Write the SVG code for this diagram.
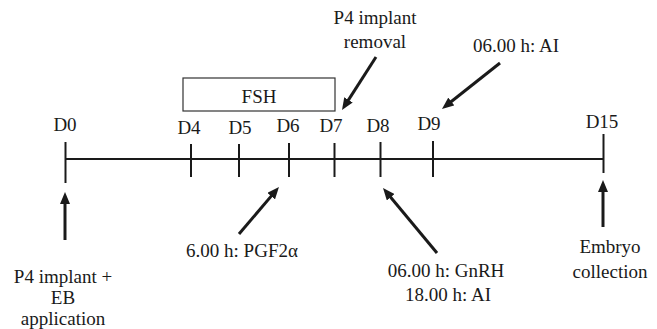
<svg xmlns="http://www.w3.org/2000/svg" width="657" height="329" viewBox="0 0 657 329">
<style>
text{font-family:"Liberation Serif","Times New Roman",serif;font-size:19px;fill:#1a1a1a;text-anchor:middle}
.ax{stroke:#1a1a1a;stroke-width:2;fill:none}
.tk{stroke:#1a1a1a;stroke-width:2}
.ar{stroke:#1a1a1a;stroke-width:3;fill:none;marker-end:url(#ah)}
.box{fill:#fff;stroke:#333;stroke-width:1.2}
</style>
<defs>
<marker id="ah" markerUnits="userSpaceOnUse" markerWidth="12" markerHeight="10" refX="2" refY="5" orient="auto">
<path d="M0,0 L12,5 L0,10 z" fill="#1a1a1a"/>
</marker>
</defs>
<rect width="657" height="329" fill="#fff"/>
<g id="timeline">
<line class="ax" x1="65" y1="159" x2="603.5" y2="159"/>
<line class="tk" x1="65.5" y1="142" x2="65.5" y2="183"/>
<line class="tk" x1="191" y1="144" x2="191" y2="177"/>
<line class="tk" x1="239" y1="144" x2="239" y2="177"/>
<line class="tk" x1="289" y1="143" x2="289" y2="177"/>
<line class="tk" x1="334.5" y1="143" x2="334.5" y2="177"/>
<line class="tk" x1="380.5" y1="142" x2="380.5" y2="177"/>
<line class="tk" x1="433" y1="141" x2="433" y2="177"/>
<line class="tk" x1="603.5" y1="134" x2="603.5" y2="173"/>
<text x="65" y="131">D0</text>
<text x="189" y="134">D4</text>
<text x="240" y="134">D5</text>
<text x="288" y="132">D6</text>
<text x="331" y="132">D7</text>
<text x="378" y="132">D8</text>
<text x="429" y="130">D9</text>
<text x="602" y="128">D15</text>
</g>
<g id="fsh">
<rect class="box" x="183" y="78" width="152" height="33"/>
<text x="259" y="103">FSH</text>
</g>
<g id="p4removal">
<text x="375" y="24">P4 implant</text>
<text x="375" y="48">removal</text>
</g>
<g id="ai1">
<text x="516" y="52">06.00 h: AI</text>
</g>
<g id="p4implant">
<text x="63" y="283">P4 implant +</text>
<text x="63" y="304">EB</text>
<text x="63" y="325">application</text>
</g>
<g id="pgf">
<text x="242" y="257">6.00 h: PGF2α</text>
</g>
<g id="gnrh">
<text x="446" y="277">06.00 h: GnRH</text>
<text x="448" y="301">18.00 h: AI</text>
</g>
<g id="embryo">
<text x="610" y="253">Embryo</text>
<text x="610" y="278">collection</text>
</g>
<g id="connectors">
<line class="ar" x1="376" y1="57" x2="347.4" y2="101.6"/>
<line class="ar" x1="500" y1="63" x2="449.8" y2="102.8"/>
<line class="ar" x1="65" y1="240" x2="65" y2="202"/>
<line class="ar" x1="239" y1="234" x2="272.5" y2="194.6"/>
<line class="ar" x1="437" y1="253" x2="389.4" y2="195.7"/>
<line class="ar" x1="603" y1="227" x2="603" y2="190"/>
</g>
</svg>
